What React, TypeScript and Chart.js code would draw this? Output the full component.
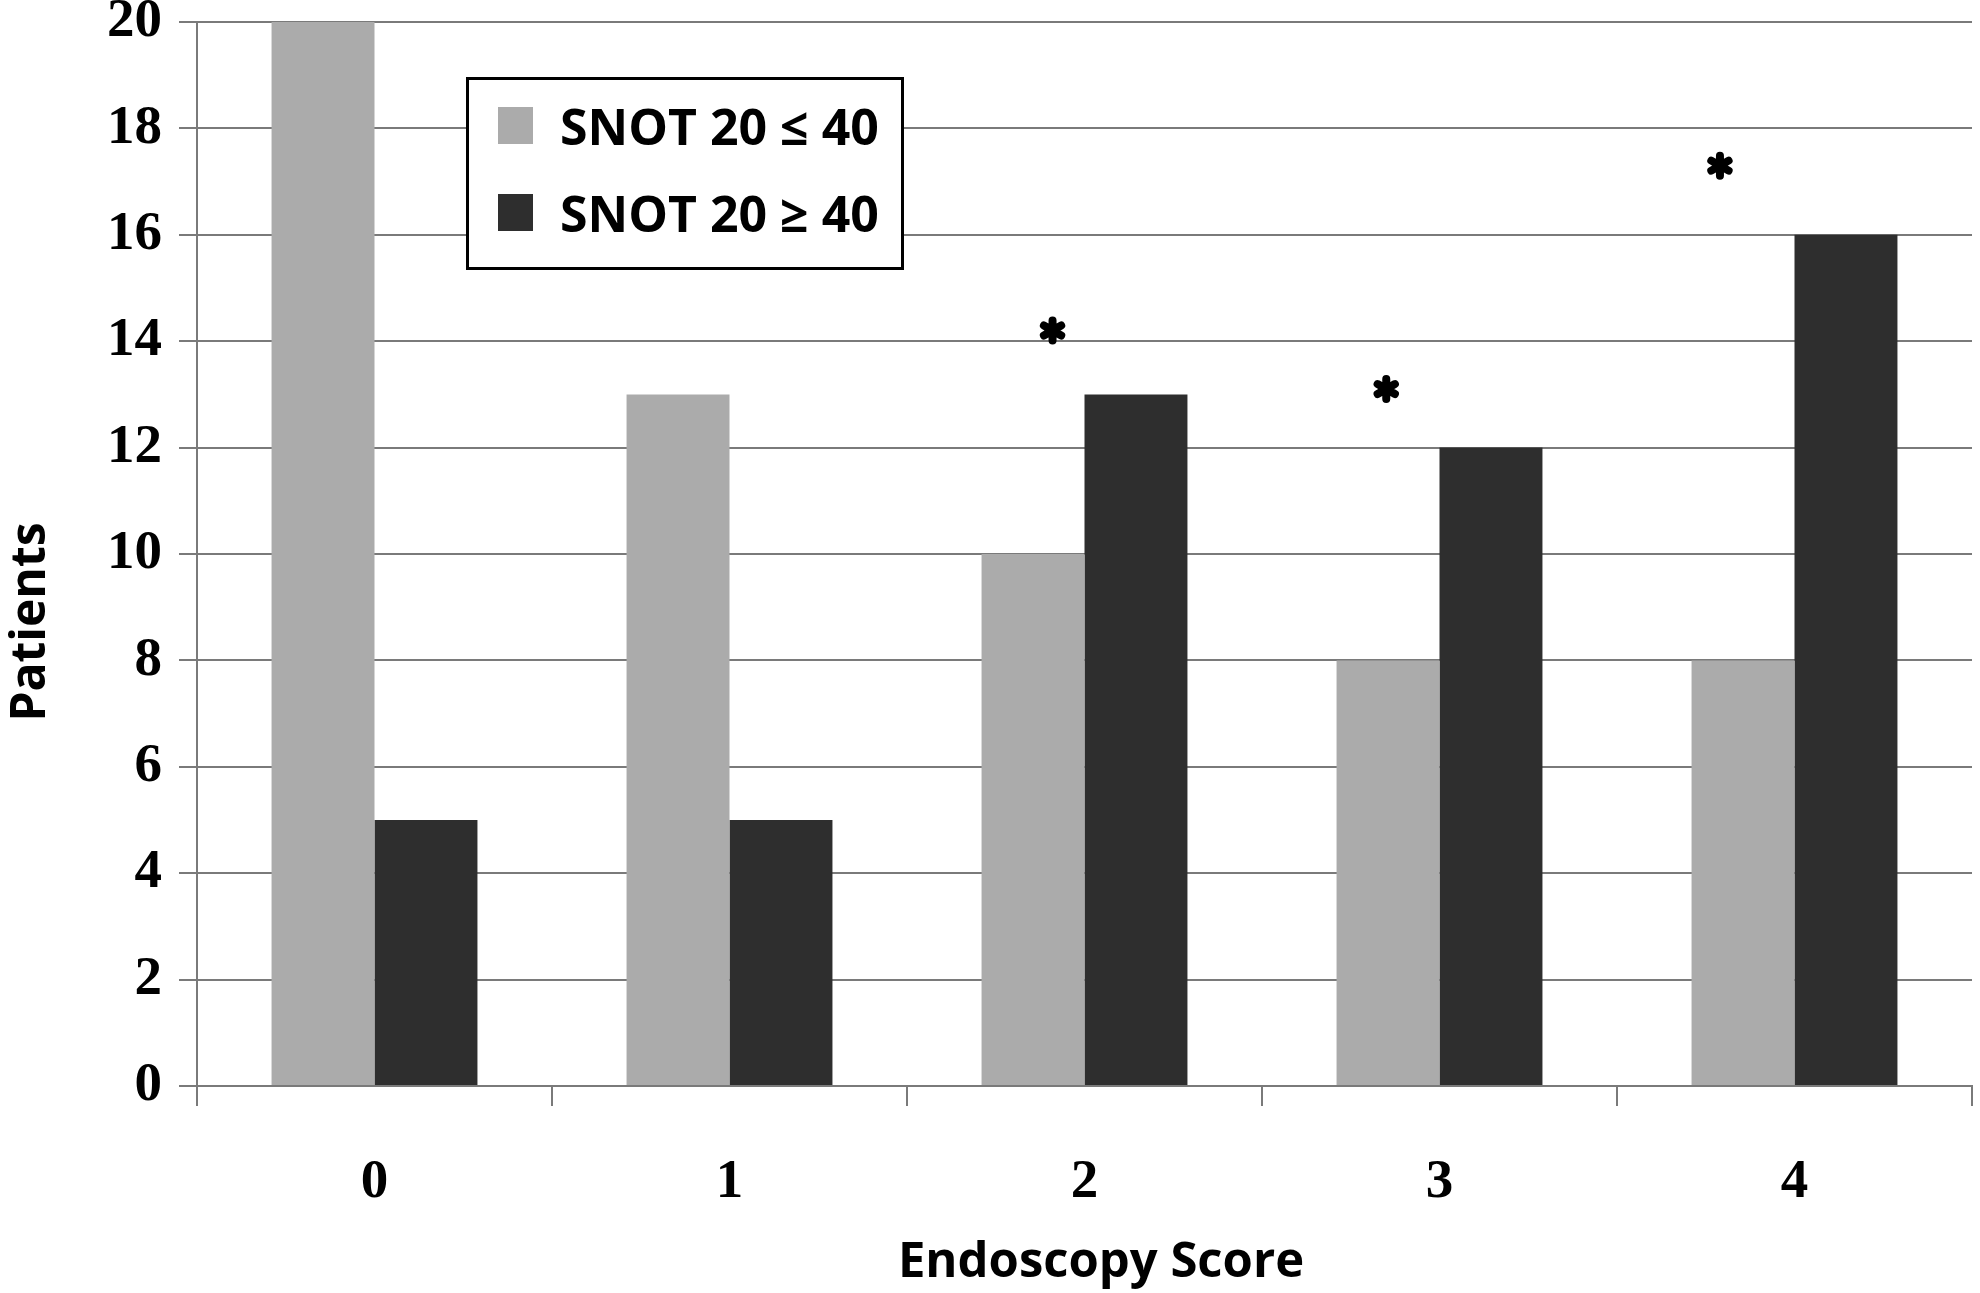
import React, { useEffect, useRef } from 'react';
import { Chart, registerables } from 'chart.js';

Chart.register(...registerables);

const categories = ['0', '1', '2', '3', '4'];
const lowSnot = [20, 13, 10, 8, 8];
const highSnot = [5, 5, 13, 12, 16];
const seriesNames = ['SNOT 20 \u2264 40', 'SNOT 20 \u2265 40'];
const seriesColors = ['#ababab', '#2e2e2e'];

// significance markers (x in category units, y in patients)
const starX = [1.91, 2.85, 3.79];
const starY = [14.2, 13.1, 17.3];

const yMax = 20;
const yStep = 2;

const xTitle = 'Endoscopy Score';
const yTitle = 'Patients';

const SANS = '"Open Sans", "DejaVu Sans", sans-serif';
const SERIF = '"Liberation Serif", "DejaVu Serif", serif';

const boxLegend = {
  id: 'boxLegend',
  afterDraw(chart: Chart) {
    const { ctx } = chart;
    ctx.save();
    ctx.fillStyle = '#ffffff';
    ctx.fillRect(466, 77, 438, 193);
    ctx.strokeStyle = '#000000';
    ctx.lineWidth = 3;
    ctx.strokeRect(467.5, 78.5, 435, 190);
    ctx.font = `bold 50px ${SANS}`;
    ctx.textBaseline = 'alphabetic';
    ctx.textAlign = 'left';
    chart.data.datasets.forEach((d: any, i: number) => {
      const top = 107 + i * 87;
      ctx.fillStyle = d.backgroundColor;
      ctx.fillRect(498, top, 35, 37);
      ctx.fillStyle = '#000000';
      ctx.fillText(d.label, 560, top + 38);
    });
    ctx.restore();
  },
};

// asterisks placed through the category x scale (fractional index) and the y scale
const asterisks = {
  id: 'asterisks',
  afterDatasetsDraw(chart: Chart) {
    const { ctx } = chart;
    const xs = chart.scales.x;
    const ys = chart.scales.y;
    ctx.save();
    ctx.strokeStyle = '#000000';
    ctx.lineWidth = 8;
    ctx.lineCap = 'round';
    starX.forEach((v, i) => {
      const cx = xs.getPixelForValue(v);
      const cy = ys.getPixelForValue(starY[i]);
      const r = 10;
      ctx.beginPath();
      for (let k = 0; k < 3; k++) {
        const a = Math.PI / 2 + (k * Math.PI) / 3;
        ctx.moveTo(cx - r * Math.cos(a), cy - r * Math.sin(a));
        ctx.lineTo(cx + r * Math.cos(a), cy + r * Math.sin(a));
      }
      ctx.stroke();
    });
    ctx.restore();
  },
};

const axisTitles = {
  id: 'axisTitles',
  afterDraw(chart: Chart) {
    const { ctx } = chart;
    ctx.save();
    ctx.fillStyle = '#000000';
    ctx.textAlign = 'center';
    ctx.textBaseline = 'alphabetic';
    ctx.font = `bold 49px ${SANS}`;
    ctx.fillText(xTitle, 1101, 1277);
    ctx.translate(45, 622);
    ctx.rotate(-Math.PI / 2);
    ctx.font = `bold 48px ${SANS}`;
    ctx.fillText(yTitle, 0, 0);
    ctx.restore();
  },
};

const App: React.FC = () => {
  const canvasRef = useRef<HTMLCanvasElement | null>(null);

  useEffect(() => {
    document.body.style.margin = '0';
    if (!canvasRef.current) return;

    const chart = new Chart(canvasRef.current, {
      type: 'bar',
      data: {
        labels: categories,
        datasets: [
          {
            label: seriesNames[0],
            data: lowSnot,
            backgroundColor: seriesColors[0],
          },
          {
            label: seriesNames[1],
            data: highSnot,
            backgroundColor: seriesColors[1],
          },
        ],
      },
      options: {
        responsive: true,
        maintainAspectRatio: false,
        animation: false,
        categoryPercentage: 0.58,
        barPercentage: 1,
        layout: { padding: { top: 22, right: 8, left: 0, bottom: 0 } },
        plugins: {
          legend: { display: false },
          tooltip: { enabled: false },
        },
        scales: {
          x: {
            type: 'category',
            offset: true,
            grid: {
              offset: true,
              drawOnChartArea: false,
              drawTicks: true,
              tickLength: 20,
              color: '#7a7a7a',
              lineWidth: 2,
            },
            border: { display: true, color: '#7a7a7a', width: 2 },
            ticks: {
              color: '#000000',
              padding: 44,
              font: { family: SERIF, size: 55, weight: 'bold' },
            },
            afterFit: (scale: any) => {
              scale.height = 207;
              scale.paddingLeft = 0;
              scale.paddingRight = 0;
            },
          },
          y: {
            min: 0,
            max: yMax,
            ticks: {
              stepSize: yStep,
              color: '#000000',
              padding: 17,
              font: { family: SERIF, size: 55, weight: 'bold' },
            },
            grid: {
              color: '#7a7a7a',
              lineWidth: 2,
              drawTicks: true,
              tickLength: 18,
            },
            border: { display: true, color: '#7a7a7a', width: 2 },
            afterFit: (scale: any) => {
              scale.width = 197;
              scale.paddingTop = 0;
              scale.paddingBottom = 0;
            },
          },
        },
      } as any,
      plugins: [boxLegend, asterisks, axisTitles],
    });

    return () => {
      chart.destroy();
    };
  }, []);

  return (
    <div style={{ width: 1980, height: 1293, position: 'relative', background: '#ffffff' }}>
      <canvas ref={canvasRef} />
    </div>
  );
};

export default App;
